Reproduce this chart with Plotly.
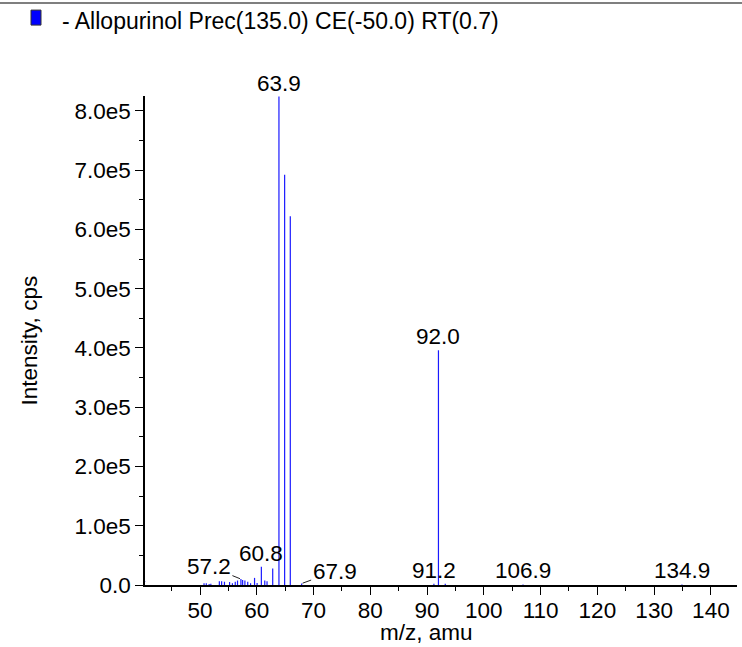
import plotly.graph_objects as go

# ---- data ----
mz = [50.7, 51.1, 51.6, 51.9, 53.4, 53.8, 54.3, 55.2, 55.7, 56.2, 56.6, 57.2, 57.5,
      57.9, 58.4, 58.9, 59.6, 60.05, 60.8, 61.4, 61.8, 62.8, 63.9, 64.9, 65.9, 67.9,
      91.2, 92.0, 93.2, 106.9, 134.9]
intensity = [3.0e3, 3.0e3, 1.5e3, 2.0e3, 6.5e3, 6.5e3, 5.5e3, 5.0e3, 3.0e3, 5.5e3, 7.5e3,
             1.0e4, 8.5e3, 7.5e3, 5.5e3, 3.0e3, 1.2e4, 3.5e3, 3.1e4, 7.5e3, 6.5e3, 2.8e4,
             8.24e5, 6.92e5, 6.22e5, 2.5e3, 2.0e3, 3.96e5, 2.0e3, 1.0e3, 1.0e3]
labelled = [57.2, 60.8, 63.9, 67.9, 91.2, 92.0, 106.9, 134.9]
x_ticks = [50, 60, 70, 80, 90, 100, 110, 120, 130, 140]
y_ticks = [0, 1e5, 2e5, 3e5, 4e5, 5e5, 6e5, 7e5, 8e5]
y_ticktext = ["0.0", "1.0e5", "2.0e5", "3.0e5", "4.0e5", "5.0e5", "6.0e5", "7.0e5", "8.0e5"]
legend_text = "- Allopurinol Prec(135.0) CE(-50.0) RT(0.7)"

# ---- layout geometry ----
W, H = 742, 647
ML, MR, MT, MB = 145, 5, 96, 61.5
PW, PH = W - ML - MR, H - MT - MB
X_RANGE = [40.3, 144.6]
Y_RANGE = [0, 8.25e5]
FONT = "Liberation Sans, Arial, Helvetica, sans-serif"
FS = 22.5
FS_LEG = 23


def px(xp):
    return (xp - ML) / PW


def py(yp):
    return (H - MB - yp) / PH


# stick spectrum built from the data
xs, ys = [], []
for m, v in zip(mz, intensity):
    xs += [m, m, None]
    ys += [0, v, None]

fig = go.Figure()
fig.add_trace(go.Scatter(x=xs, y=ys, mode="lines",
                         line=dict(color="#1a1aff", width=1.2),
                         hoverinfo="skip", showlegend=False))

# peak labels
leader = {57.2: (-32, -13), 67.9: (33, -12)}
lookup = dict(zip(mz, intensity))
for lab in labelled:
    v = lookup[lab]
    if lab in leader:
        ax, ay = leader[lab]
        fig.add_annotation(x=lab, y=v, text=f"{lab:.1f}", showarrow=True,
                           arrowhead=0, arrowwidth=1, arrowcolor="#222",
                           ax=ax, ay=ay, standoff=1,
                           font=dict(family=FONT, size=FS, color="black"))
    else:
        fig.add_annotation(x=lab, y=v, text=f"{lab:.1f}", showarrow=False,
                           yanchor="bottom", yshift=-1,
                           font=dict(family=FONT, size=FS, color="black"))

# axis titles
fig.add_annotation(xref="paper", yref="paper", x=px(29), y=0.5, text="Intensity, cps",
                   textangle=-90, showarrow=False, xanchor="center", yanchor="middle",
                   font=dict(family=FONT, size=FS, color="black"))
fig.add_annotation(xref="paper", yref="paper", x=px(426), y=py(633), text="m/z, amu",
                   showarrow=False, xanchor="center", yanchor="middle",
                   font=dict(family=FONT, size=FS, color="black"))

# legend
fig.add_shape(type="rect", xref="paper", yref="paper",
              x0=px(31), x1=px(41), y0=py(25), y1=py(10),
              fillcolor="#0000ff", line=dict(color="#333", width=1))
fig.add_annotation(xref="paper", yref="paper", x=px(60), y=py(21), text=legend_text,
                   showarrow=False, xanchor="left", yanchor="middle",
                   font=dict(family=FONT, size=FS_LEG, color="black"))

# top separator line
fig.add_shape(type="line", xref="paper", yref="paper",
              x0=px(0), x1=px(W), y0=py(3), y1=py(3),
              line=dict(color="#555", width=1.5))

# baseline marker triangle
fig.add_shape(type="path", xref="x", yref="y", xsizemode="pixel", ysizemode="pixel",
              xanchor=X_RANGE[0], yanchor=0,
              path="M -10,14.5 L 0,3.5 L -10,-7.5 Z",
              fillcolor="#0000ff", line=dict(color="#0000ff", width=0.5))

axis_common = dict(showgrid=False, zeroline=False, showline=True, linecolor="black",
                   linewidth=1.5, ticks="outside", ticklen=8, tickwidth=1,
                   tickcolor="black",
                   tickfont=dict(family=FONT, size=FS, color="black"))
fig.update_xaxes(range=X_RANGE, tickvals=x_ticks, ticklabelstandoff=-4, **axis_common,
                 minor=dict(dtick=5, tick0=0, ticks="outside", ticklen=4,
                            tickcolor="black", tickwidth=1))
fig.update_yaxes(range=Y_RANGE, tickvals=y_ticks, ticktext=y_ticktext, **axis_common,
                 minor=dict(dtick=5e4, tick0=0, ticks="outside", ticklen=4,
                            tickcolor="black", tickwidth=1))

fig.update_layout(width=W, height=H, autosize=False,
                  margin=dict(l=ML, r=MR, t=MT, b=MB, pad=0),
                  plot_bgcolor="white", paper_bgcolor="white",
                  font=dict(family=FONT, size=FS, color="black"))

fig.write_html("out.html", config={"displayModeBar": False},
               post_script="document.body.style.margin='0';"
                           "document.documentElement.style.overflow='hidden';")
